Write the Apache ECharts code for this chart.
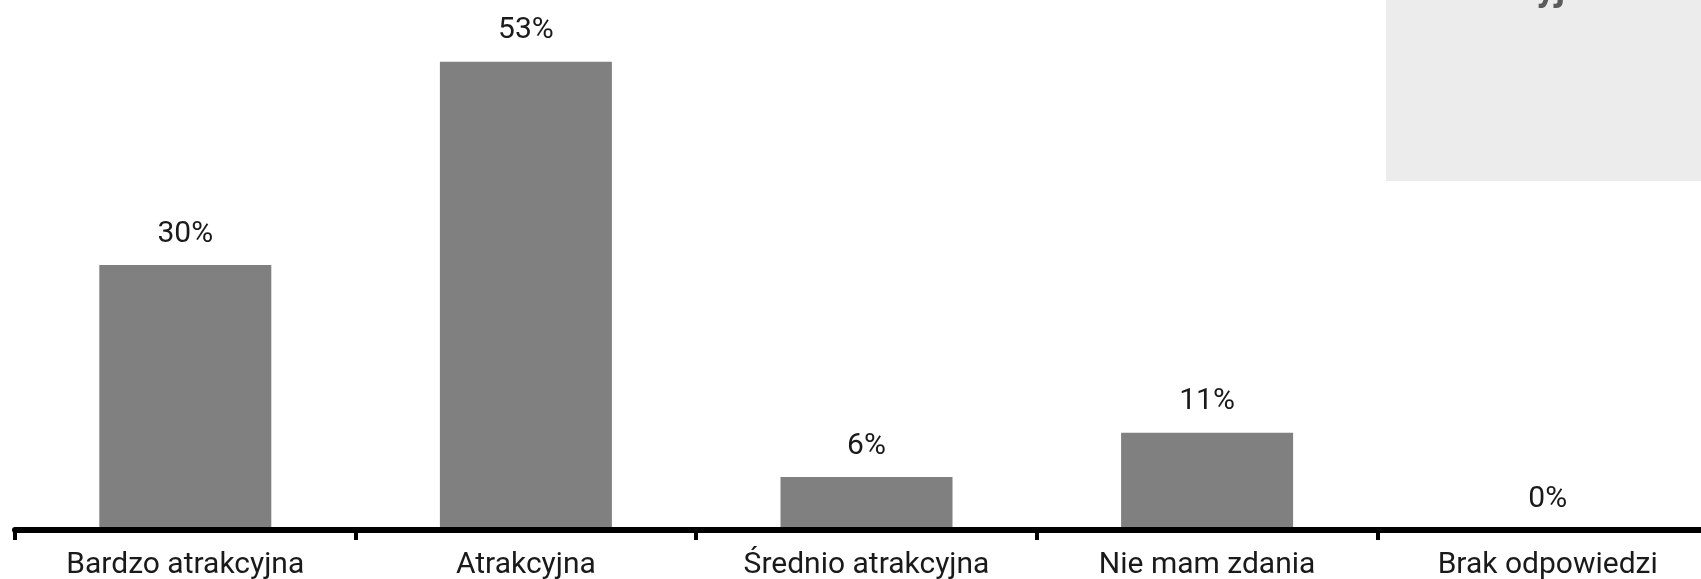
<!DOCTYPE html>
<html>
<head>
<meta charset="utf-8">
<script src="https://cdn.jsdelivr.net/npm/echarts@6/dist/echarts.min.js"></script>
<style>
  html, body { margin: 0; padding: 0; background: #ffffff; }
  #chart { width: 1701px; height: 579px; }
</style>
</head>
<body>
<div id="chart"></div>
<script>
// Survey answers and their shares (%)
const categories = ['Bardzo atrakcyjna', 'Atrakcyjna', 'Średnio atrakcyjna', 'Nie mam zdania', 'Brak odpowiedzi'];
const shares = [30, 53, 6, 11, 0];
const panelTitle = 'Atrakcyjność';

const FONT = 'Roboto';

const chart = echarts.init(document.getElementById('chart'));
chart.setOption({
  animation: false,
  backgroundColor: '#ffffff',
  grid: { left: 15, top: 0, width: 1703, bottom: 49, containLabel: false, outerBoundsMode: 'none' },
  graphic: [
    {
      type: 'rect',
      left: 1386, top: 0,
      shape: { width: 320, height: 181 },
      style: { fill: '#ececec' },
      z: -10
    },
    {
      type: 'text',
      x: 1428, y: 9,
      style: {
        text: panelTitle,
        font: 'bold 37px ' + FONT,
        fill: '#5a5a5a',
        verticalAlign: 'bottom'
      },
      z: -9
    }
  ],
  xAxis: {
    type: 'category',
    data: categories,
    z: 5,
    axisLine: { show: true, lineStyle: { color: '#000000', width: 6 } },
    axisTick: { show: true, alignWithLabel: false, length: 10, lineStyle: { color: '#000000', width: 4 } },
    axisLabel: { color: '#1a1a1a', fontFamily: FONT, fontSize: 30, margin: 20, interval: 0 }
  },
  yAxis: {
    type: 'value',
    min: 0, max: 60,
    show: false,
    splitLine: { show: false }
  },
  series: [{
    type: 'bar',
    data: shares,
    barWidth: 172,
    itemStyle: { color: '#808080' },
    label: {
      show: true,
      position: 'top',
      distance: 16,
      color: '#1a1a1a',
      fontFamily: FONT,
      fontSize: 30,
      formatter: p => p.value + '%'
    }
  }]
});
</script>
</body>
</html>
